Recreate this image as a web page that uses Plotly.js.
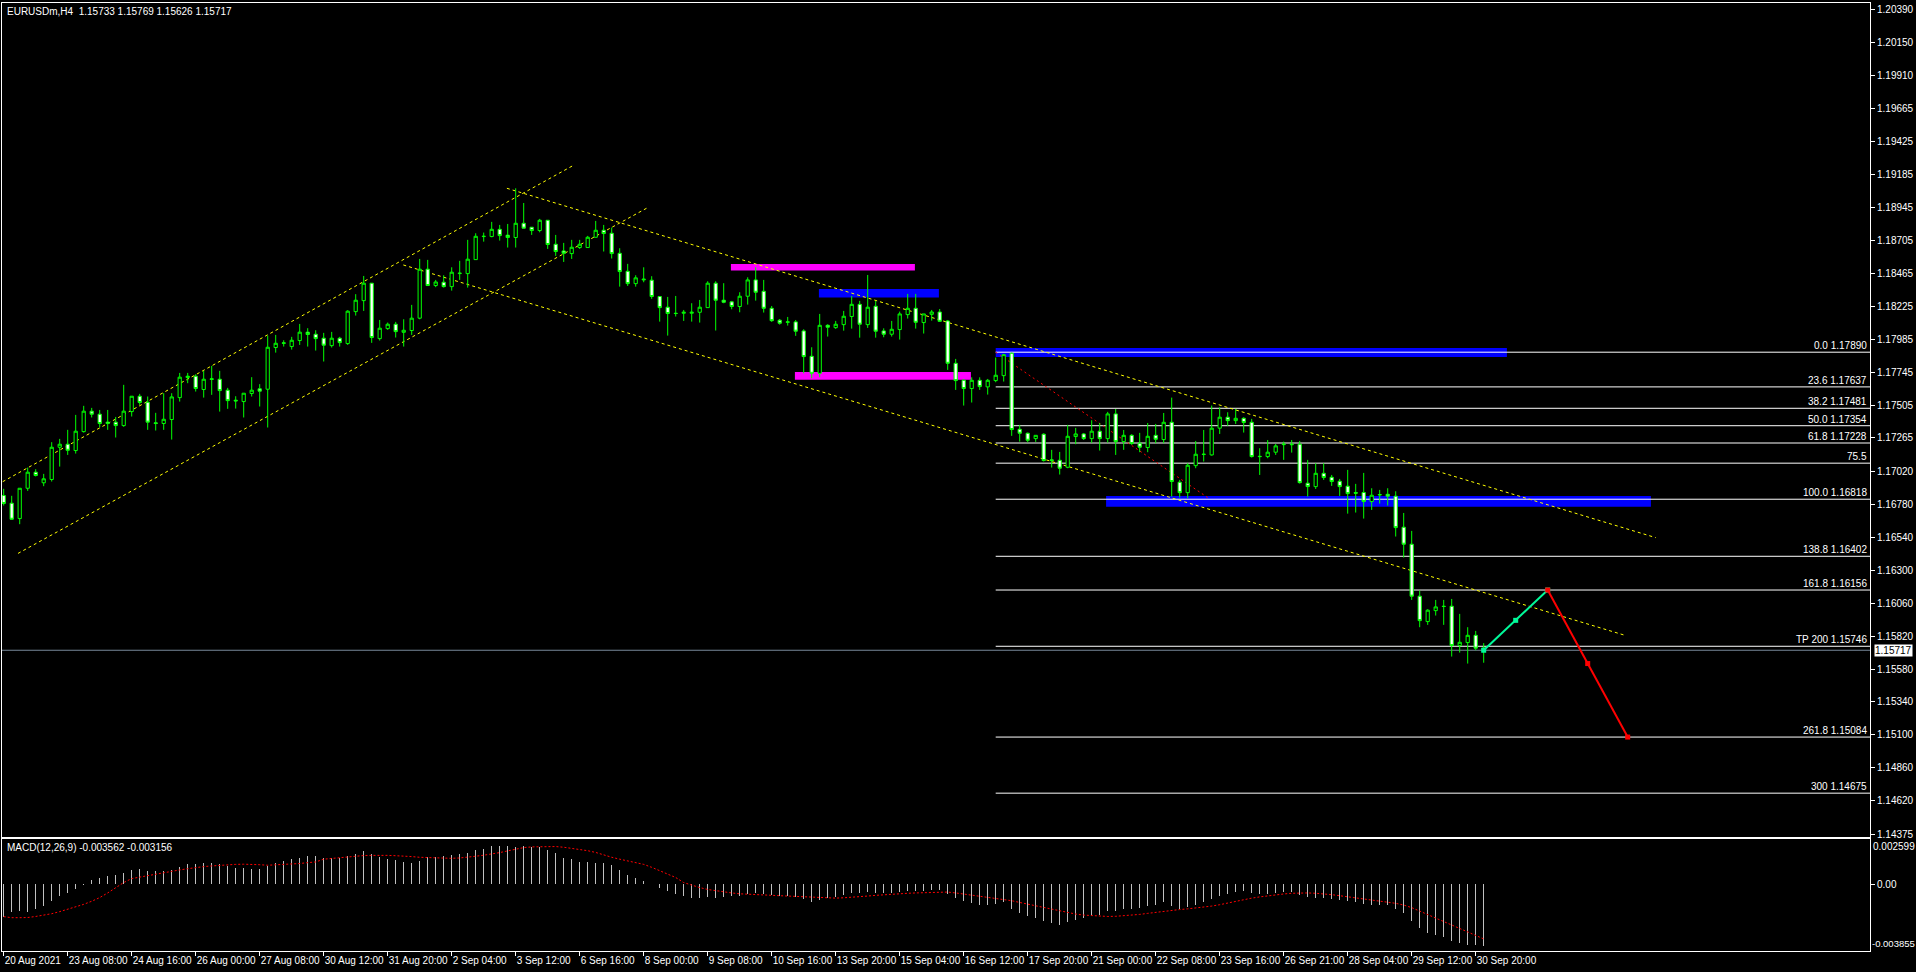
<!DOCTYPE html>
<html><head><meta charset="utf-8">
<script src="https://cdn.plot.ly/plotly-3.0.1.min.js"></script>
<style>html,body{margin:0;padding:0;background:#000;overflow:hidden}#chart{width:1916px;height:972px}</style>
</head><body><div id="chart"></div>
<script>
// ---- time axis labels (one every 8 bars) ----
const timeLabels = ['20 Aug 2021','23 Aug 08:00','24 Aug 16:00','26 Aug 00:00','27 Aug 08:00','30 Aug 12:00','31 Aug 20:00','2 Sep 04:00','3 Sep 12:00','6 Sep 16:00','8 Sep 00:00','9 Sep 08:00','10 Sep 16:00','13 Sep 20:00','15 Sep 04:00','16 Sep 12:00','17 Sep 20:00','21 Sep 00:00','22 Sep 08:00','23 Sep 16:00','26 Sep 21:00','28 Sep 04:00','29 Sep 12:00','30 Sep 20:00'];
const labelEvery = 8;
// ---- price axis labels ----
const priceLabels = ['1.20390','1.20150','1.19910','1.19665','1.19425','1.19185','1.18945','1.18705','1.18465','1.18225','1.17985','1.17745','1.17505','1.17265','1.17020','1.16780','1.16540','1.16300','1.16060','1.15820','1.15580','1.15340','1.15100','1.14860','1.14620','1.14375'];
const priceRange = [1.143554, 1.204359];
// ---- H4 candles EURUSDm ----
const open = [1.16845,1.16789,1.16677,1.16898,1.17015,1.16938,1.16962,1.17197,1.17219,1.17173,
1.17311,1.17460,1.17438,1.17380,1.17380,1.17355,1.17457,1.17569,1.17525,1.17375,
1.17370,1.17399,1.17559,1.17705,1.17715,1.17618,1.17691,1.17693,1.17613,1.17540,
1.17530,1.17589,1.17623,1.17620,1.17924,1.17958,1.17931,1.17975,1.18036,1.18021,
1.17992,1.17938,1.17992,1.17953,1.18186,1.18266,1.18393,1.17989,1.18062,1.18094,
1.18035,1.18048,1.18138,1.18495,1.18376,1.18400,1.18368,1.18463,1.18463,1.18565,
1.18733,1.18733,1.18786,1.18743,1.18726,1.18830,1.18801,1.18777,1.18852,1.18677,
1.18628,1.18609,1.18653,1.18653,1.18728,1.18779,1.18757,1.18611,1.18480,1.18390,
1.18417,1.18415,1.18296,1.18218,1.18174,1.18174,1.18174,1.18181,1.18215,1.18393,
1.18269,1.18257,1.18223,1.18298,1.18417,1.18334,1.18210,1.18123,1.18108,1.18111,
1.18045,1.17860,1.17736,1.18086,1.18069,1.18091,1.18150,1.18239,1.18091,1.18225,
1.18045,1.18021,1.18055,1.18164,1.18210,1.18106,1.18166,1.18183,1.18118,1.17809,
1.17685,1.17625,1.17685,1.17637,1.17683,1.17719,1.17882,1.17328,1.17299,1.17260,
1.17292,1.17105,1.17102,1.17051,1.17275,1.17294,1.17260,1.17314,1.17260,1.17440,
1.17238,1.17284,1.17226,1.17195,1.17284,1.17253,1.17379,1.16942,1.16866,1.17063,
1.17144,1.17141,1.17336,1.17416,1.17391,1.17408,1.17379,1.17131,1.17129,1.17161,
1.17216,1.17219,1.17219,1.16935,1.16910,1.17007,1.16978,1.16949,1.16913,1.16867,
1.16867,1.16801,1.16849,1.16854,1.16840,1.16614,1.16490,1.16111,1.15926,1.16006,
1.16038,1.16038,1.15751,1.15773,1.15826,1.15733];
const high = [1.16894,1.16843,1.16898,1.17049,1.17037,1.17003,1.17234,1.17258,1.17324,1.17433,
1.17499,1.17484,1.17469,1.17469,1.17418,1.17652,1.17569,1.17586,1.17567,1.17448,
1.17591,1.17591,1.17739,1.17739,1.17729,1.17754,1.17790,1.17754,1.17630,1.17569,
1.17591,1.17708,1.17657,1.18011,1.18016,1.17977,1.18002,1.18096,1.18065,1.18050,
1.18031,1.18038,1.18002,1.18196,1.18313,1.18446,1.18393,1.18125,1.18106,1.18111,
1.18130,1.18235,1.18570,1.18563,1.18417,1.18451,1.18509,1.18556,1.18709,1.18757,
1.18762,1.18840,1.18818,1.18825,1.19085,1.18978,1.18801,1.18862,1.18852,1.18745,
1.18687,1.18709,1.18709,1.18738,1.18847,1.18818,1.18799,1.18648,1.18534,1.18451,
1.18509,1.18444,1.18296,1.18293,1.18300,1.18198,1.18247,1.18271,1.18407,1.18407,
1.18393,1.18264,1.18327,1.18436,1.18509,1.18417,1.18227,1.18132,1.18147,1.18125,
1.18057,1.17926,1.18169,1.18094,1.18118,1.18191,1.18300,1.18264,1.18453,1.18264,
1.18064,1.18118,1.18186,1.18315,1.18315,1.18169,1.18198,1.18205,1.18125,1.17841,
1.17693,1.17707,1.17707,1.17695,1.17851,1.17877,1.17887,1.17360,1.17304,1.17284,
1.17299,1.17178,1.17163,1.17360,1.17338,1.17301,1.17394,1.17374,1.17455,1.17476,
1.17323,1.17292,1.17302,1.17374,1.17367,1.17447,1.17559,1.16959,1.17080,1.17243,
1.17323,1.17501,1.17489,1.17452,1.17477,1.17416,1.17404,1.17190,1.17250,1.17221,
1.17238,1.17250,1.17243,1.17105,1.17080,1.17080,1.16995,1.16966,1.17032,1.16930,
1.17010,1.16898,1.16886,1.16898,1.16876,1.16718,1.16587,1.16152,1.16016,1.16084,
1.16084,1.16091,1.15982,1.15885,1.15858,1.15769];
const low = [1.16772,1.16668,1.16636,1.16879,1.16984,1.16913,1.16947,1.17056,1.17141,1.17151,
1.17304,1.17414,1.17343,1.17324,1.17268,1.17346,1.17421,1.17506,1.17324,1.17319,
1.17324,1.17253,1.17530,1.17664,1.17603,1.17559,1.17579,1.17457,1.17477,1.17479,
1.17414,1.17567,1.17494,1.17341,1.17887,1.17931,1.17909,1.17943,1.17931,1.17902,
1.17822,1.17924,1.17931,1.17943,1.18157,1.18191,1.17958,1.17975,1.18053,1.17997,
1.17931,1.18016,1.18130,1.18376,1.18364,1.18361,1.18339,1.18417,1.18361,1.18565,
1.18696,1.18728,1.18704,1.18653,1.18653,1.18794,1.18745,1.18764,1.18643,1.18592,
1.18548,1.18570,1.18643,1.18653,1.18728,1.18624,1.18573,1.18368,1.18373,1.18368,
1.18400,1.18279,1.18113,1.18011,1.18150,1.18118,1.18113,1.18106,1.18215,1.18048,
1.18247,1.18203,1.18181,1.18237,1.18266,1.18179,1.18111,1.18091,1.18084,1.18009,
1.17736,1.17700,1.17707,1.18004,1.18060,1.18047,1.18062,1.17996,1.18067,1.17996,
1.17999,1.18004,1.17982,1.18135,1.18062,1.18026,1.18120,1.18111,1.17761,1.17615,
1.17501,1.17523,1.17615,1.17581,1.17671,1.17676,1.17280,1.17238,1.17233,1.17236,
1.17093,1.17049,1.16998,1.17044,1.17219,1.17250,1.17229,1.17173,1.17231,1.17141,
1.17178,1.17214,1.17161,1.17161,1.17226,1.17226,1.16837,1.16830,1.16825,1.17044,
1.17093,1.17136,1.17294,1.17353,1.17367,1.17304,1.17122,1.16995,1.17117,1.17141,
1.17105,1.17158,1.16932,1.16837,1.16893,1.16959,1.16915,1.16842,1.16713,1.16721,
1.16677,1.16740,1.16786,1.16772,1.16546,1.16393,1.16084,1.15885,1.15902,1.15970,
1.15902,1.15671,1.15700,1.15620,1.15717,1.15626];
const close = [1.16787,1.16672,1.16898,1.17015,1.16991,1.16967,1.17197,1.17219,1.17175,1.17314,
1.17460,1.17438,1.17370,1.17370,1.17355,1.17460,1.17569,1.17523,1.17380,1.17370,
1.17401,1.17564,1.17708,1.17715,1.17625,1.17693,1.17696,1.17610,1.17537,1.17535,
1.17591,1.17613,1.17606,1.17926,1.17955,1.17955,1.17977,1.18036,1.18019,1.17989,
1.17941,1.17992,1.17960,1.18189,1.18269,1.18393,1.17997,1.18065,1.18094,1.18040,
1.18050,1.18138,1.18495,1.18376,1.18402,1.18368,1.18473,1.18466,1.18568,1.18735,
1.18735,1.18786,1.18740,1.18726,1.18830,1.18794,1.18777,1.18852,1.18675,1.18624,
1.18611,1.18655,1.18677,1.18728,1.18779,1.18755,1.18609,1.18478,1.18390,1.18432,
1.18422,1.18296,1.18215,1.18172,1.18172,1.18181,1.18181,1.18218,1.18393,1.18269,
1.18254,1.18223,1.18298,1.18417,1.18327,1.18210,1.18120,1.18101,1.18111,1.18043,
1.17858,1.17736,1.18086,1.18072,1.18094,1.18152,1.18239,1.18094,1.18218,1.18043,
1.18021,1.18057,1.18169,1.18210,1.18108,1.18169,1.18183,1.18115,1.17809,1.17683,
1.17625,1.17685,1.17639,1.17685,1.17722,1.17872,1.17326,1.17299,1.17248,1.17284,
1.17100,1.17100,1.17044,1.17277,1.17294,1.17260,1.17314,1.17260,1.17440,1.17238,
1.17284,1.17224,1.17197,1.17277,1.17255,1.17379,1.16947,1.16866,1.17066,1.17146,
1.17146,1.17336,1.17416,1.17391,1.17408,1.17377,1.17129,1.17129,1.17161,1.17207,
1.17219,1.17216,1.16939,1.16910,1.17007,1.16976,1.16947,1.16910,1.16859,1.16862,
1.16801,1.16847,1.16852,1.16840,1.16611,1.16490,1.16111,1.15933,1.16009,1.16033,
1.16036,1.15751,1.15775,1.15826,1.15732,1.15717];
// ---- MACD(12,26,9) ----
const macdHist = [-0.001873,-0.001603,-0.001545,-0.001603,-0.001448,-0.001255,-0.000966,-0.000676,-0.000483,-0.000290,
-0.000058,0.000232,0.000348,0.000463,0.000541,0.000676,0.000830,0.000869,0.000772,0.000772,
0.000772,0.000830,0.001004,0.001159,0.001159,0.001236,0.001236,0.001178,0.001062,0.000946,
0.000946,0.000869,0.000869,0.001062,0.001236,0.001332,0.001448,0.001545,0.001641,0.001641,
0.001545,0.001545,0.001545,0.001641,0.001738,0.001912,0.001738,0.001603,0.001487,0.001390,
0.001294,0.001255,0.001352,0.001603,0.001603,0.001641,0.001680,0.001738,0.001796,0.001970,
0.002066,0.002221,0.002221,0.002221,0.002182,0.002221,0.002182,0.002182,0.001970,0.001796,
0.001545,0.001448,0.001313,0.001294,0.001255,0.001236,0.001120,0.000830,0.000541,0.000348,
0.000193,0.000030,-0.000193,-0.000386,-0.000541,-0.000676,-0.000772,-0.000772,-0.00075,-0.00080,
-0.00075,-0.00070,-0.00065,-0.00055,-0.00050,-0.00055,-0.00060,-0.00065,-0.00068,-0.00072,
-0.00085,-0.00100,-0.00090,-0.00080,-0.00072,-0.00062,-0.00050,-0.00050,-0.00042,-0.00048,
-0.00052,-0.00052,-0.00045,-0.00036,-0.00038,-0.00036,-0.00032,-0.00034,-0.00055,-0.00078,
-0.00098,-0.00108,-0.00118,-0.00120,-0.00115,-0.00100,-0.00140,-0.00165,-0.00185,-0.00195,
-0.00215,-0.00225,-0.00235,-0.00220,-0.00205,-0.00195,-0.00180,-0.00175,-0.00155,-0.00155,
-0.00145,-0.00140,-0.00138,-0.00128,-0.00120,-0.00105,-0.00125,-0.00140,-0.00130,-0.00118,
-0.00105,-0.00085,-0.00065,-0.00055,-0.00045,-0.00038,-0.00048,-0.00055,-0.00055,-0.00050,
-0.00045,-0.00042,-0.00060,-0.00075,-0.00078,-0.00080,-0.00085,-0.00090,-0.00098,-0.00105,
-0.00115,-0.00118,-0.00120,-0.00122,-0.00140,-0.00165,-0.00210,-0.00255,-0.00280,-0.00295,
-0.00305,-0.00330,-0.00340,-0.00348,-0.00352,-0.003562];
const macdSignal = [-0.00187,-0.00193,-0.00193,-0.00192,-0.00186,-0.00180,-0.00170,-0.00158,-0.00145,-0.00130,
-0.00116,-0.00098,-0.00077,-0.00050,-0.00020,0.00010,0.00033,0.00042,0.00048,0.00058,
0.00068,0.00076,0.00083,0.00090,0.00097,0.00102,0.00106,0.00110,0.00114,0.00115,
0.00116,0.00116,0.00113,0.00110,0.00112,0.00114,0.00116,0.00120,0.00125,0.00129,
0.00145,0.00150,0.00155,0.00160,0.00164,0.00166,0.00167,0.00168,0.00167,0.00165,
0.00164,0.00160,0.00156,0.00155,0.00152,0.00149,0.00150,0.00152,0.00155,0.00162,
0.00168,0.00174,0.00183,0.00193,0.00203,0.00212,0.00216,0.00218,0.00218,0.00218,
0.00214,0.00208,0.00203,0.00194,0.00184,0.00168,0.00156,0.00145,0.00134,0.00125,
0.00115,0.00098,0.00077,0.00058,0.00039,0.00010,-0.00005,-0.00019,-0.00030,-0.00038,
-0.00045,-0.00050,-0.00055,-0.00058,-0.00060,-0.00062,-0.00064,-0.00066,-0.00068,-0.00070,
-0.00072,-0.00075,-0.00078,-0.00080,-0.00080,-0.00078,-0.00076,-0.00072,-0.00068,-0.00064,
-0.00060,-0.00057,-0.00054,-0.00052,-0.00050,-0.00048,-0.00046,-0.00044,-0.00045,-0.00050,
-0.00056,-0.00062,-0.00068,-0.00075,-0.00082,-0.00088,-0.00095,-0.00105,-0.00115,-0.00125,
-0.00135,-0.00145,-0.00155,-0.00165,-0.00172,-0.00178,-0.00182,-0.00185,-0.00186,-0.00185,
-0.00182,-0.00178,-0.00174,-0.00168,-0.00162,-0.00155,-0.00150,-0.00146,-0.00142,-0.00138,
-0.00133,-0.00126,-0.00118,-0.00108,-0.00098,-0.00088,-0.00080,-0.00073,-0.00066,-0.00060,
-0.00056,-0.00052,-0.00050,-0.00050,-0.00052,-0.00055,-0.00060,-0.00066,-0.00072,-0.00078,
-0.00084,-0.00090,-0.00096,-0.00102,-0.00110,-0.00120,-0.00135,-0.00155,-0.00175,-0.00195,
-0.00215,-0.00235,-0.00255,-0.00275,-0.00295,-0.003156];
const macdRange = [-0.003855, 0.002599];
const macdLabels = ['0.002599','0.00','-0.003855'];
// ---- Fibonacci expansion ----
const fibLevels = [1.17890,1.17637,1.17481,1.17354,1.17228,1.17081,1.16818,1.16402,1.16156,1.15746,1.15084,1.14675];
const fibTexts = ['0.0 1.17890','23.6 1.17637','38.2 1.17481','50.0 1.17354','61.8 1.17228','75.5','100.0 1.16818','138.8 1.16402','161.8 1.16156','TP 200 1.15746','261.8 1.15084','300 1.14675'];
const fibStartBar = 124;
const fibBaseLine = {bars:[124,150.8], prices:[1.17890,1.16818]};
// ---- drawn objects (bar index, price) ----
const channelLines = [
  {bars:[-0.125,71.3], prices:[1.16946,1.19255]},
  {bars:[1.79,80.5],   prices:[1.16423,1.18944]},
  {bars:[62.9,206.5],  prices:[1.19085,1.16538]},
  {bars:[49.95,202.7], prices:[1.18526,1.15825]}
];
const zones = [
  {bars:[90.9,113.9],  prices:[1.18485,1.18533], color:'#FF00FF'},
  {bars:[101.9,116.9], prices:[1.18288,1.18351], color:'#0000FF'},
  {bars:[98.9,120.9],  prices:[1.17690,1.17746], color:'#FF00FF'},
  {bars:[124.0,187.9], prices:[1.17855,1.17920], color:'#0000FF'},
  {bars:[137.8,205.9], prices:[1.16764,1.16842], color:'#0000FF'}
];
const upPathBars = [185,189,193], upPathPrices = [1.15717,1.15935,1.16156];
const downPathBars = [193,198,203], downPathPrices = [1.16156,1.15620,1.15084];
const lastPrice = 1.15717;
const headerText = 'EURUSDm,H4  1.15733 1.15769 1.15626 1.15717';
const macdText = 'MACD(12,26,9) -0.003562 -0.003156';

const bars = open.map((_, i) => i);
const FONT = "Tahoma, 'Liberation Sans', Arial, sans-serif";
const xRange = [-0.2125, 233.2875];

const traces = [
  {type:'candlestick', x:bars, open:open, high:high, low:low, close:close, xaxis:'x', yaxis:'y',
   increasing:{line:{color:'#00FF00', width:1}, fillcolor:'#000000'},
   decreasing:{line:{color:'#00FF00', width:1}, fillcolor:'#FFFFFF'},
   whiskerwidth:0, hoverinfo:'skip', showlegend:false},
  {type:'scatter', mode:'lines+markers', x:upPathBars, y:upPathPrices, xaxis:'x', yaxis:'y',
   line:{color:'#00FA9A', width:2}, marker:{symbol:'square', size:5, color:'#00FA9A'}, hoverinfo:'skip', showlegend:false},
  {type:'scatter', mode:'lines+markers', x:downPathBars, y:downPathPrices, xaxis:'x', yaxis:'y',
   line:{color:'#FF0000', width:2}, marker:{symbol:'square', size:5, color:'#FF0000'}, hoverinfo:'skip', showlegend:false},
  {type:'bar', x:bars, y:macdHist, xaxis:'x2', yaxis:'y2', width:0.14,
   marker:{color:'#C0C0C0', line:{width:0}}, hoverinfo:'skip', showlegend:false},
  {type:'scatter', mode:'lines', x:bars, y:macdSignal, xaxis:'x2', yaxis:'y2',
   line:{color:'#FF0000', width:1, dash:'2px,2px'}, hoverinfo:'skip', showlegend:false}
];

const shapes = [];
zones.forEach(z => shapes.push({type:'rect', xref:'x', yref:'y', x0:z.bars[0], x1:z.bars[1], y0:z.prices[0], y1:z.prices[1],
  fillcolor:z.color, line:{width:0}, layer:'below'}));
fibLevels.forEach(p => shapes.push({type:'line', xref:'x', yref:'y', x0:fibStartBar, x1:xRange[1], y0:p, y1:p,
  line:{color:'#FFFFFF', width:1}, layer:'below'}));
shapes.push({type:'line', xref:'x', yref:'y', x0:fibBaseLine.bars[0], x1:fibBaseLine.bars[1], y0:fibBaseLine.prices[0], y1:fibBaseLine.prices[1],
  line:{color:'#FF0000', width:1, dash:'2px,3px'}, layer:'below'});
channelLines.forEach(l => shapes.push({type:'line', xref:'x', yref:'y', x0:l.bars[0], x1:l.bars[1], y0:l.prices[0], y1:l.prices[1],
  line:{color:'#FFFF00', width:1, dash:'3px,3px'}, layer:'below'}));
shapes.push({type:'line', xref:'paper', yref:'y', x0:0, x1:1, y0:lastPrice, y1:lastPrice,
  line:{color:'#778899', width:1}, layer:'below'});

const annotations = [];
fibTexts.forEach((t, k) => annotations.push({text:t, xref:'paper', yref:'y', x:1, y:fibLevels[k], xanchor:'right', yanchor:'bottom',
  xshift:-1, yshift:-1, showarrow:false, font:{family:FONT, size:10, color:'#FFFFFF'}}));
annotations.push({text:headerText, xref:'paper', yref:'paper', x:0, y:1, xanchor:'left', yanchor:'top', xshift:3, yshift:-1,
  showarrow:false, font:{family:FONT, size:10, color:'#FFFFFF'}});
annotations.push({text:macdText, xref:'paper', yref:'paper', x:0, y:0.11783, xanchor:'left', yanchor:'top', xshift:3, yshift:-1,
  showarrow:false, font:{family:FONT, size:10, color:'#FFFFFF'}});
annotations.push({text:macdLabels[0], xref:'paper', yref:'y2', x:1, y:macdRange[1], xanchor:'left', yanchor:'top', xshift:1,
  showarrow:false, font:{family:FONT, size:10, color:'#FFFFFF'}});
annotations.push({text:macdLabels[2], xref:'paper', yref:'y2', x:1, y:macdRange[0], xanchor:'left', yanchor:'bottom', xshift:0,
  showarrow:false, font:{family:FONT, size:9.5, color:'#FFFFFF'}});
annotations.push({text:lastPrice.toFixed(5), xref:'paper', yref:'y', x:1, y:lastPrice, xanchor:'left', yanchor:'middle', xshift:4,
  showarrow:false, bgcolor:'#FFFFFF', borderpad:0, font:{family:FONT, size:10, color:'#000000'}});

const layout = {
  width:1916, height:972, paper_bgcolor:'#000000', plot_bgcolor:'#000000',
  margin:{l:2, r:46, t:3, b:21}, showlegend:false, bargap:0, hovermode:false,
  boxgap:0.42,
  font:{family:FONT, size:10, color:'#FFFFFF'},
  xaxis:{domain:[0,1], anchor:'y', range:xRange, type:'linear', showgrid:false, zeroline:false,
    showline:true, mirror:true, linecolor:'#FFFFFF', linewidth:1, showticklabels:false, ticks:'',
    rangeslider:{visible:false}, fixedrange:true},
  yaxis:{domain:[0.12025,1], anchor:'x', side:'right', range:priceRange, showgrid:false, zeroline:false,
    showline:true, mirror:true, linecolor:'#FFFFFF', linewidth:1,
    tickvals:priceLabels.map(Number), ticktext:priceLabels, ticks:'outside', ticklen:4, tickcolor:'#FFFFFF',
    tickfont:{family:FONT, size:10, color:'#FFFFFF'}, fixedrange:true},
  xaxis2:{domain:[0,1], anchor:'y2', matches:'x', range:xRange, type:'linear', showgrid:false, zeroline:false,
    showline:true, mirror:true, linecolor:'#FFFFFF', linewidth:1,
    tickvals:timeLabels.map((_, k) => k*labelEvery), ticktext:timeLabels, ticks:'outside', ticklen:4, tickcolor:'#FFFFFF',
    tickangle:0, automargin:false, ticklabelposition:'outside right', tickfont:{family:FONT, size:10, color:'#FFFFFF'}, fixedrange:true},
  yaxis2:{domain:[0,0.11783], anchor:'x2', side:'right', range:macdRange, showgrid:false, zeroline:false,
    showline:true, mirror:true, linecolor:'#FFFFFF', linewidth:1,
    tickvals:[0], ticktext:[macdLabels[1]], ticks:'outside', ticklen:4, tickcolor:'#FFFFFF',
    tickfont:{family:FONT, size:10, color:'#FFFFFF'}, fixedrange:true},
  shapes:shapes, annotations:annotations
};
Plotly.newPlot('chart', traces, layout, {displayModeBar:false, staticPlot:true});
</script></body></html>
